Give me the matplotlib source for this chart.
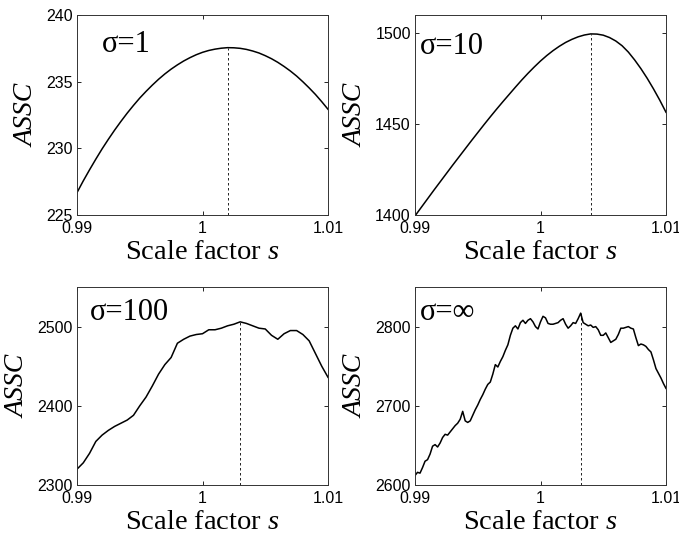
import numpy as np
import matplotlib
matplotlib.use('Agg')
import matplotlib.pyplot as plt

plt.rcParams['mathtext.fontset'] = 'custom'
plt.rcParams['mathtext.rm'] = 'Liberation Serif'
plt.rcParams['mathtext.it'] = 'Liberation Serif:italic'

# values (ASSC against scale factor s)
s_coarse = np.linspace(0.99, 1.01, 41)
s_fine = np.linspace(0.99, 1.01, 101)

assc_sigma1 = [226.68, 227.56, 228.39, 229.19, 229.96, 230.68, 231.37, 232.02, 232.64, 233.22,
               233.77, 234.27, 234.74, 235.18, 235.58, 235.94, 236.26, 236.55, 236.80, 237.02,
               237.20, 237.34, 237.44, 237.51, 237.55, 237.54, 237.50, 237.42, 237.30, 237.15,
               236.95, 236.72, 236.45, 236.14, 235.80, 235.42, 234.99, 234.53, 234.04, 233.50,
               232.93]

assc_sigma10 = [1399.5, 1404.2, 1408.9, 1413.6, 1418.2, 1422.8, 1427.4, 1431.9, 1436.4, 1440.9,
                1445.3, 1449.7, 1454.0, 1458.2, 1462.3, 1466.3, 1470.3, 1474.2, 1477.9, 1481.4,
                1484.7, 1487.7, 1490.4, 1492.8, 1494.9, 1496.6, 1498.0, 1499.0, 1499.6, 1499.5,
                1498.9, 1497.6, 1495.7, 1493.1, 1489.6, 1485.3, 1480.5, 1475.2, 1469.4, 1463.2,
                1456.5]

assc_sigma100 = [2320, 2328, 2340, 2355, 2363, 2369, 2374, 2378, 2382, 2388,
                 2400, 2411, 2425, 2440, 2452, 2461, 2479, 2484, 2488, 2490,
                 2491, 2496, 2496, 2498, 2501, 2503, 2506, 2504, 2501, 2498,
                 2497, 2489, 2484, 2491, 2495, 2495, 2490, 2482, 2466, 2450,
                 2436]

assc_sigmainf = [2612, 2616, 2615, 2622, 2630, 2632, 2639, 2649, 2651, 2648,
                 2653, 2660, 2664, 2663, 2667, 2671, 2675, 2678, 2683, 2693,
                 2681, 2679, 2681, 2688, 2695, 2701, 2708, 2714, 2721, 2727,
                 2730, 2740, 2752, 2749, 2756, 2762, 2770, 2777, 2789, 2798,
                 2801, 2797, 2805, 2808, 2804, 2808, 2810, 2806, 2800, 2797,
                 2806, 2813, 2811, 2804, 2803, 2803, 2804, 2805, 2808, 2810,
                 2803, 2798, 2801, 2805, 2804, 2810, 2817, 2805, 2803, 2801,
                 2802, 2799, 2800, 2796, 2789, 2789, 2792, 2786, 2780, 2782,
                 2784, 2790, 2798, 2798, 2799, 2800, 2798, 2797, 2786, 2776,
                 2778, 2777, 2775, 2771, 2768, 2758, 2747, 2741, 2735, 2728,
                 2722]

labels = ['\u03c3=1', '\u03c3=10', '\u03c3=100', '\u03c3=\u221e']
ylims = [(225, 240), (1400, 1510), (2300, 2550), (2600, 2850)]
yticks = [[225, 230, 235, 240], [1400, 1450, 1500], [2300, 2400, 2500], [2600, 2700, 2800]]

panels = [(s_coarse, assc_sigma1), (s_coarse, assc_sigma10),
          (s_coarse, assc_sigma100), (s_fine, assc_sigmainf)]

W, H = 679, 534
fig = plt.figure(figsize=(W / 100, H / 100), dpi=100)
boxes = [(77, 15, 251, 200), (415, 15, 251, 200), (77, 287, 251, 198), (415, 287, 251, 198)]
label_pos = [(0.10, 0.85), (0.02, 0.84), (0.05, 0.87), (0.02, 0.87)]

serif = 'Liberation Serif'
for i, (x, y) in enumerate(panels):
    l, t, w, h = boxes[i]
    ax = fig.add_axes([l / W, (H - t - h) / H, w / W, h / H])
    y = np.array(y)
    ax.plot(x, y, color='black', lw=1.1)
    k = np.argmax(y)
    ax.vlines(x[k], ylims[i][0], y[k], colors='black', linestyles=(0, (3, 3)), lw=0.6)
    ax.set_xlim(0.99, 1.01)
    ax.set_ylim(*ylims[i])
    ax.set_xticks([0.99, 1.0, 1.01])
    ax.set_xticklabels(['0.99', '1', '1.01'])
    ax.set_yticks(yticks[i])
    ax.tick_params(direction='in', top=True, right=True, labelsize=11.5, length=3, width=0.6)
    ax.tick_params(axis='x', pad=4)
    ax.tick_params(axis='y', pad=3)
    for lab in ax.get_xticklabels() + ax.get_yticklabels():
        lab.set_family('Liberation Sans')
    for sp in ax.spines.values():
        sp.set_linewidth(0.7)
        sp.set_color('#333333')
    ax.set_xlabel('Scale factor $s$', family=serif, fontsize=20.5, labelpad=3)
    ax.set_ylabel('ASSC', family=serif, style='italic', fontsize=20, labelpad=5)
    ax.text(label_pos[i][0], label_pos[i][1], labels[i], transform=ax.transAxes,
            family=[serif, 'DejaVu Serif'], fontsize=22, va='center', ha='left')

fig.savefig('out.png', dpi=100)
